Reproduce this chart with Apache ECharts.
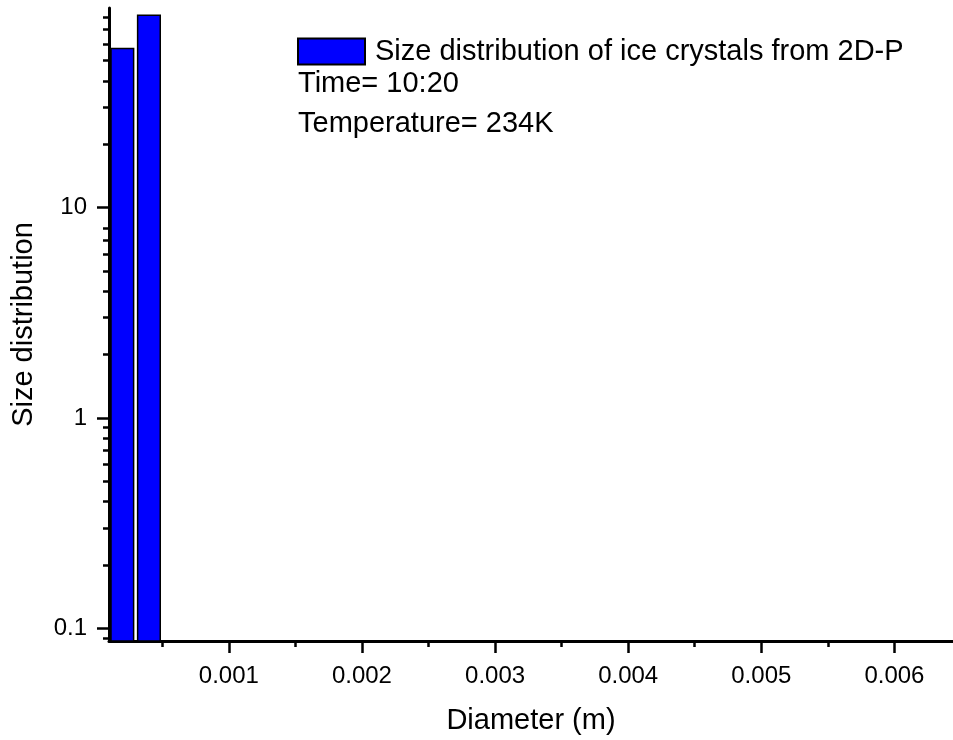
<!DOCTYPE html>
<html>
<head>
<meta charset="utf-8">
<script src="https://cdn.jsdelivr.net/npm/echarts@6/dist/echarts.min.js"></script>
<style>
  html, body { margin: 0; padding: 0; background: #fff; }
  #chart { width: 953px; height: 740px; }
</style>
</head>
<body>
<div id="chart"></div>
<script>
// bin centres (m) and size distribution
const diameters = [0.0002, 0.0004]
const sizeDist = [57, 82]

const xMajorTicks = [0.001, 0.002, 0.003, 0.004, 0.005, 0.006]
const xMinorTicks = [0.0005, 0.0015, 0.0025, 0.0035, 0.0045, 0.0055]
const yMajorTicks = [0.1, 1, 10]
const yMinorTicks = [0.09, 0.2, 0.3, 0.4, 0.5, 0.6, 0.7, 0.8, 0.9,
  2, 3, 4, 5, 6, 7, 8, 20, 30, 40, 50, 60, 70, 80]

const seriesName = 'Size distribution of ice crystals from 2D-P'
const noteLines = ['Time= 10:20', 'Temperature= 234K']

const X_MIN = 0.0001
const X_MAX = 0.00644
const Y_MIN = 0.087
const Y_MAX = 88.8
const BAR_W = 0.00017
const FONT = 'Liberation Sans, Arial, sans-serif'

const chart = echarts.init(document.getElementById('chart'))

chart.setOption({
  backgroundColor: '#fff',
  animation: false,
  grid: { left: 109, right: 0, top: 8, bottom: 97 },
  legend: {
    left: 292,
    top: 32,
    itemWidth: 67,
    itemHeight: 26,
    icon: 'rect',
    data: [seriesName],
    textStyle: { fontSize: 29, color: '#000', fontFamily: FONT, padding: [0, 0, 0, 5] }
  },
  graphic: noteLines.map((t, i) => ({
    type: 'text',
    left: 298,
    top: 69 + i * 40,
    style: { text: t, fontSize: 29, fill: '#000', fontFamily: FONT }
  })),
  xAxis: [
    {
      type: 'value',
      min: X_MIN,
      max: X_MAX,
      name: 'Diameter (m)',
      nameLocation: 'middle',
      nameGap: 65,
      nameTextStyle: { fontSize: 29, color: '#000', fontFamily: FONT },
      splitLine: { show: false },
      axisLine: { lineStyle: { color: '#000', width: 3 } },
      axisTick: { length: 12, lineStyle: { color: '#000', width: 2.5 }, customValues: xMajorTicks },
      axisLabel: { margin: 23, fontSize: 24, color: '#000', fontFamily: FONT, customValues: xMajorTicks }
    },
    {
      type: 'value',
      min: X_MIN,
      max: X_MAX,
      position: 'bottom',
      splitLine: { show: false },
      axisLine: { show: false },
      axisTick: { length: 6, lineStyle: { color: '#000', width: 2.5 }, customValues: xMinorTicks },
      axisLabel: { show: false }
    }
  ],
  yAxis: [
    {
      type: 'log',
      logBase: 10,
      min: Y_MIN,
      max: Y_MAX,
      name: 'Size distribution',
      nameLocation: 'middle',
      nameGap: 71,
      nameTextStyle: { fontSize: 29, color: '#000', fontFamily: FONT },
      splitLine: { show: false },
      axisLine: { lineStyle: { color: '#000', width: 3 } },
      axisTick: { length: 12, lineStyle: { color: '#000', width: 2.5 }, customValues: yMajorTicks },
      axisLabel: { margin: 22, fontSize: 24, color: '#000', fontFamily: FONT, customValues: yMajorTicks }
    },
    {
      type: 'log',
      logBase: 10,
      min: Y_MIN,
      max: Y_MAX,
      position: 'left',
      splitLine: { show: false },
      axisLine: { show: false },
      axisTick: { length: 6, lineStyle: { color: '#000', width: 2.5 }, customValues: yMinorTicks },
      axisLabel: { show: false }
    }
  ],
  series: [
    {
      name: seriesName,
      type: 'custom',
      xAxisIndex: 0,
      yAxisIndex: 0,
      itemStyle: { color: '#0000ff', borderColor: '#000', borderWidth: 1.5 },
      data: diameters.map((d, i) => [d, sizeDist[i]]),
      renderItem(params, api) {
        const x = api.value(0)
        const y = api.value(1)
        const p0 = api.coord([x - BAR_W / 2, y])
        const p1 = api.coord([x + BAR_W / 2, Y_MIN])
        return {
          type: 'rect',
          shape: { x: p0[0], y: p0[1], width: p1[0] - p0[0], height: p1[1] - p0[1] },
          style: api.style()
        }
      }
    }
  ]
})
</script>
</body>
</html>
